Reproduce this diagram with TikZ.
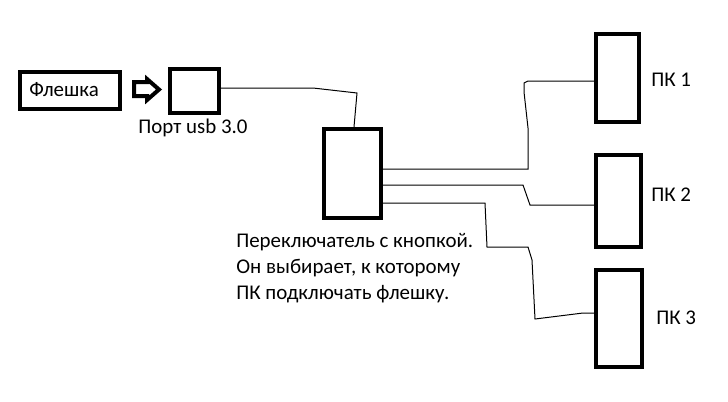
\documentclass[tikz,border=0pt]{standalone}
\usepackage{fontspec}
\setmainfont{Carlito}
\begin{document}
\begin{tikzpicture}[x=0.75pt,y=-0.75pt,
  box/.style={draw=black,line width=3pt,fill=white,inner sep=0pt},
  wire/.style={draw=black,line width=0.75pt},
  lbl/.style={anchor=base west,inner sep=0pt,font=\fontsize{15.7pt}{19.5pt}\selectfont}]
\useasboundingbox[fill=white] (0,0) rectangle (728,401);
% boxes
\node[box,minimum width=100*0.75pt,minimum height=37*0.75pt] (flash) at (70,90.5) {};
\node[box,minimum width=49*0.75pt,minimum height=44*0.75pt] (port) at (194.5,91) {};
\node[box,minimum width=57*0.75pt,minimum height=89*0.75pt] (sw) at (352.5,173.5) {};
\node[box,minimum width=43*0.75pt,minimum height=88*0.75pt] (pc1) at (617.5,78) {};
\node[box,minimum width=45*0.75pt,minimum height=92*0.75pt] (pc2) at (618.5,201) {};
\node[box,minimum width=46*0.75pt,minimum height=97*0.75pt] (pc3) at (619,318.5) {};
% texts
\node[lbl] (tflash) at (29,96) {Флешка};
\node[lbl] (tport) at (138,133) {Порт usb 3.0};
\node[lbl] (tsw1) at (236,247) {Переключатель с кнопкой.};
\node[lbl] (tsw2) at (236,273) {Он выбирает, к которому};
\node[lbl] (tsw3) at (236,299) {ПК подключать флешку.};
\node[lbl] (tpc1) at (651,86) {ПК 1};
\node[lbl] (tpc2) at (651,201) {ПК 2};
\node[lbl] (tpc3) at (656,324) {ПК 3};
% hollow arrow
\draw[line width=3pt,line join=miter] (134,82) -- (147,82) -- (147,79) -- (159,89.5) -- (147,100) -- (147,96) -- (134,96) -- cycle;
% wires
\coordinate (w0a) at (313,88);
\coordinate (w0b) at (357,93);
\draw[wire] (port.east |- w0a) -- (w0a) -- (w0b) -- (354,0 |- sw.north);
\draw[wire] (sw.east |- 0,169) -- (528,169) -- (528,128) -- (524,92) -- (524,83) -- (528,81) -- (pc1.west |- 0,81);
\draw[wire] (sw.east |- 0,185) -- (523,185) -- (530,205) -- (pc2.west |- 0,205);
\draw[wire] (sw.east |- 0,203) -- (485,203) -- (487,247) -- (528,247) -- (532,260) -- (535,319) -- (583,313) -- (pc3.west |- 0,313);
\end{tikzpicture}
\end{document}
